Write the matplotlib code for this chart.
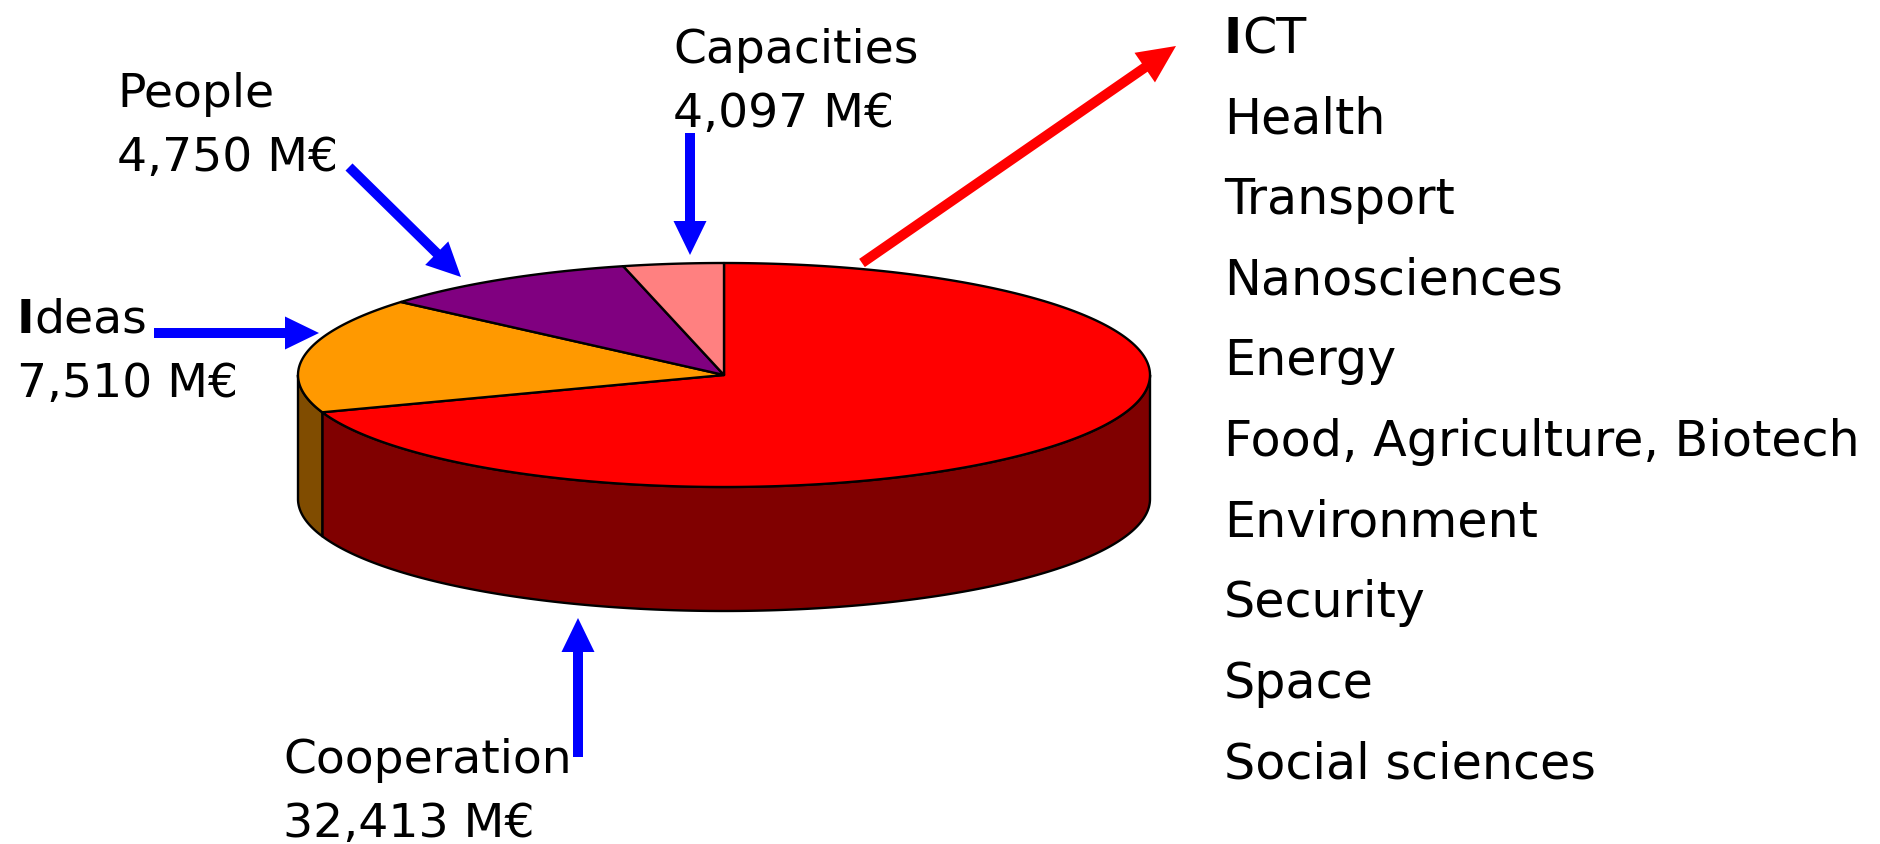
import numpy as np
import matplotlib
matplotlib.use('Agg')
import matplotlib.pyplot as plt
from matplotlib.patches import Polygon

# FP7 programmes, budgets as printed, and slice shares (%) as drawn
programmes = ['Cooperation', 'Ideas', 'People', 'Capacities']
budgets = ['32,413', '7,510', '4,750', '4,097']
shares = [69.6, 16.7, 9.9, 3.8]
top_colors = ['#FF0000', '#FF9900', '#800080', '#FF8080']
side_colors = ['#800000', '#804C00', '#400040', '#804040']

themes = ['ICT', 'Health', 'Transport', 'Nanosciences', 'Energy',
          'Food, Agriculture, Biotech', 'Environment', 'Security',
          'Space', 'Social sciences']

W, H = 1881, 845
fig = plt.figure(figsize=(W / 100, H / 100), dpi=100)
ax = fig.add_axes([0, 0, 1, 1])
ax.set_xlim(0, W)
ax.set_ylim(H, 0)
ax.axis('off')

# pie geometry (pixels)
cx, cy, a, b, depth = 724, 376, 426, 112, 124
edge = dict(edgecolor='black', linewidth=1.7, joinstyle='round')


def pt(theta):
    t = np.radians(theta)
    return cx + a * np.cos(t), cy - b * np.sin(t)


# slice angle ranges, clockwise from 12 o'clock
bounds = []
start = 90.0
for s in shares:
    end = start - s * 3.6
    bounds.append((end, start))
    start = end

# side walls (front half: 180..360 deg)
for (lo, hi), col in zip(bounds, side_colors):
    lo_n, hi_n = lo % 360, (hi % 360) or 360
    if hi_n < lo_n:
        hi_n += 360
    seg_lo = max(lo_n, 180)
    seg_hi = min(hi_n, 360)
    if seg_hi <= seg_lo:
        continue
    th = np.linspace(seg_lo, seg_hi, 200)
    xs, ys = pt(th)
    poly = np.vstack([np.column_stack([xs, ys]),
                      np.column_stack([xs[::-1], ys[::-1] + depth])])
    ax.add_patch(Polygon(poly, closed=True, facecolor=col, **edge))

# top faces
for (lo, hi), col in zip(bounds, top_colors):
    th = np.linspace(hi, lo, 300)
    xs, ys = pt(th)
    poly = np.vstack([[cx, cy], np.column_stack([xs, ys])])
    ax.add_patch(Polygon(poly, closed=True, facecolor=col, **edge))


def label(x, y, s, fs):
    txt = dict(fontsize=fs, color='black', family='DejaVu Sans', ha='left')
    # the capital I is rendered bold in the original
    if s.startswith('I'):
        t = ax.text(x, y, 'I', fontweight='bold', va='baseline', **txt)
        ax.annotate(s[1:], xy=(1, 0), xycoords=t, va='bottom', **txt)
    else:
        ax.text(x, y, s, va='baseline', **txt)


# programme labels
lab_pos = {'Cooperation': (283, 773), 'Ideas': (17, 333),
           'People': (117, 107), 'Capacities': (673, 63)}
for name, val in zip(programmes, budgets):
    x, y = lab_pos[name]
    label(x, y, name, 34)
    label(x, y + 64, val + ' M€', 34)

# theme list
for i, th in enumerate(themes):
    label(1224, 53 + i * 80.6, th, 35.4)

# arrows
blue = dict(width=10, head_width=33, head_length=34, length_includes_head=True,
            color='#0000FF', linewidth=0)
ax.arrow(690, 134, 0, 122, **blue)
ax.arrow(349, 168, 112, 110, **blue)
ax.arrow(154, 334, 165, 0, **blue)
ax.arrow(578, 758, 0, -139, **blue)
ax.arrow(862, 264, 314, -217, width=10, head_width=36, head_length=38,
         length_includes_head=True, color='#FF0000', linewidth=0)

fig.savefig('out.png', dpi=100, facecolor='white')
